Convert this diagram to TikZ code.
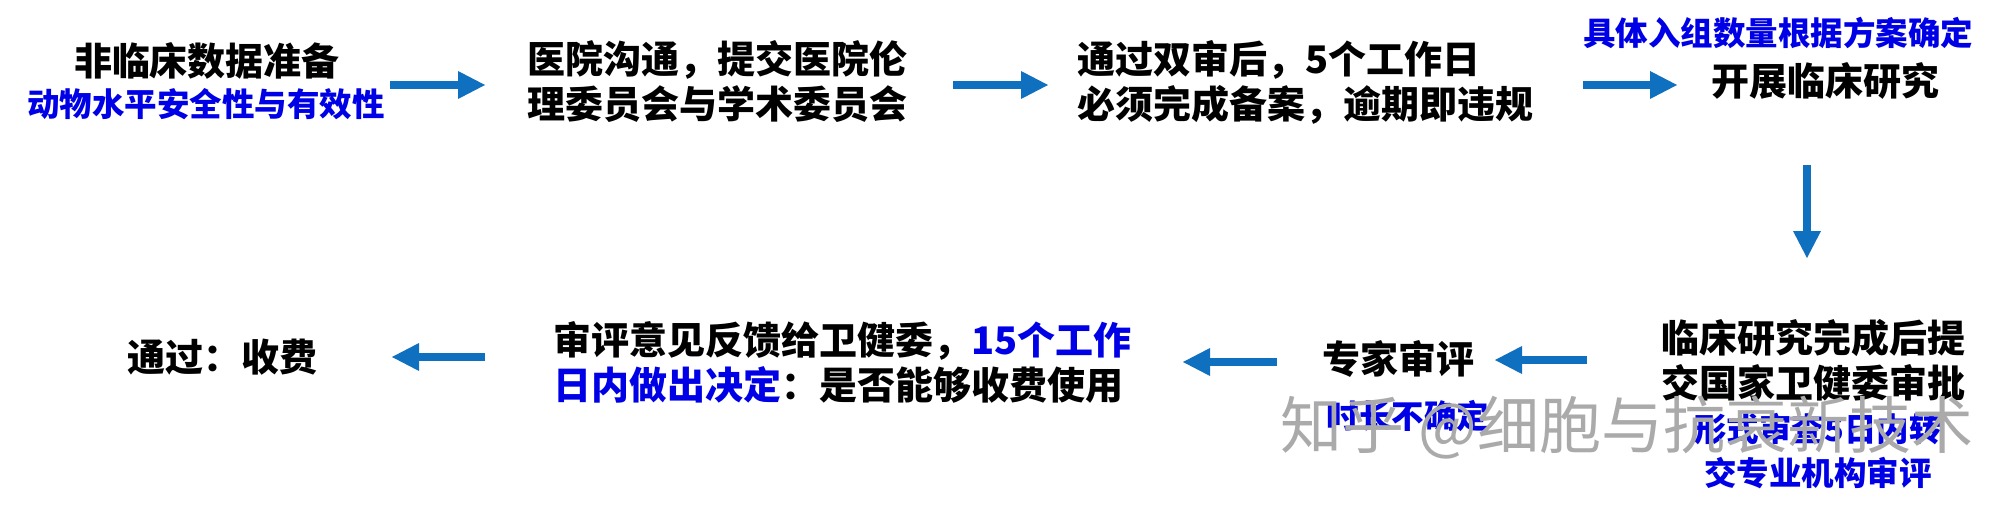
\documentclass[tikz,border=0pt]{standalone}
\usepackage{fontspec}
\setmainfont{Noto Sans CJK SC}[BoldFont={Noto Sans CJK SC Black}]
\usepackage{xcolor}
\usetikzlibrary{arrows.meta}
\definecolor{arrowblue}{RGB}{16,112,192}
\definecolor{noteblue}{RGB}{0,0,230}
\definecolor{markgray}{RGB}{170,170,170}
\tikzset{
  steptext/.style={font=\fontsize{19pt}{22.5pt}\selectfont\bfseries,inner sep=0pt},
  notetext/.style={font=\fontsize{16.25pt}{22pt}\selectfont\bfseries,text=noteblue,inner sep=0pt},
  flowarrow/.style={draw=arrowblue,line width=4.3pt,
    -{Triangle[length=13.5pt,width=14pt,line width=0pt]}},
}

\begin{document}
\begin{tikzpicture}[x=0.5pt,y=-0.5pt]
        \fill[white] (0,0) rectangle (2009,508);
        \useasboundingbox (0,0) rectangle (2009,508);
        % non-clinical data
        \node[steptext] (prep) at (207,61) {非临床数据准备};
        \node[notetext] (prepnote) at (206,104) {动物水平安全性与有效性};
        \coordinate (a1s) at (390,85);
        \coordinate (a1e) at (485,85);
        \draw[flowarrow] (a1s) -- (a1e);
        % ethics committees
        \node[steptext,align=left,anchor=west] (ethics) at (527,82) {医院沟通，提交医院伦\\理委员会与学术委员会};
        \coordinate (a2s) at (953,85);
        \coordinate (a2e) at (1048,85);
        \draw[flowarrow] (a2s) -- (a2e);
        % filing
        \node[steptext,align=left,anchor=west] (record) at (1077,82) {通过双审后，5个工作日\\必须完成备案，逾期即违规};
        \coordinate (a3s) at (1583,85);
        \coordinate (a3e) at (1677,85);
        \draw[flowarrow] (a3s) -- (a3e);
        % clinical study
        \node[notetext] (groupnote) at (1778,33) {具体入组数量根据方案确定};
        \node[steptext] (study) at (1825,81) {开展临床研究};
        \coordinate (a4s) at (1807,165);
        \coordinate (a4e) at (1807,258);
        \draw[flowarrow] (a4s) -- (a4e);
        % submit to commission
        \node[steptext,align=center] (submit) at (1813,360) {临床研究完成后提\\交国家卫健委审批};
        \node[notetext,align=center] (submitnote) at (1818,451) {形式审查5日内转\\交专业机构审评};
        \coordinate (a5s) at (1587,360);
        \coordinate (a5e) at (1495,360);
        \draw[flowarrow] (a5s) -- (a5e);
        % expert review
        \node[steptext] (expert) at (1398,359) {专家审评};
        \node[notetext] (expertnote) at (1408,416) {时长不确定};
        \coordinate (a6s) at (1277,362);
        \coordinate (a6e) at (1183,362);
        \draw[flowarrow] (a6s) -- (a6e);
        % feedback
        \node[steptext,align=left,anchor=west] (feedback) at (553,362) {审评意见反馈给卫健委，\textcolor{noteblue}{15个工作}\\\textcolor{noteblue}{日内做出决定}：是否能够收费使用};
        \coordinate (a7s) at (485,357);
        \coordinate (a7e) at (392,357);
        \draw[flowarrow] (a7s) -- (a7e);
        % fee
        \node[steptext] (fee) at (222,357) {通过：收费};
        % watermark
        \node[font=\fontsize{31pt}{31pt}\selectfont,text=markgray,inner sep=0pt] (mark) at (1627,428) {知乎 @细胞与抗衰新技术};
    \end{tikzpicture}
\end{document}
